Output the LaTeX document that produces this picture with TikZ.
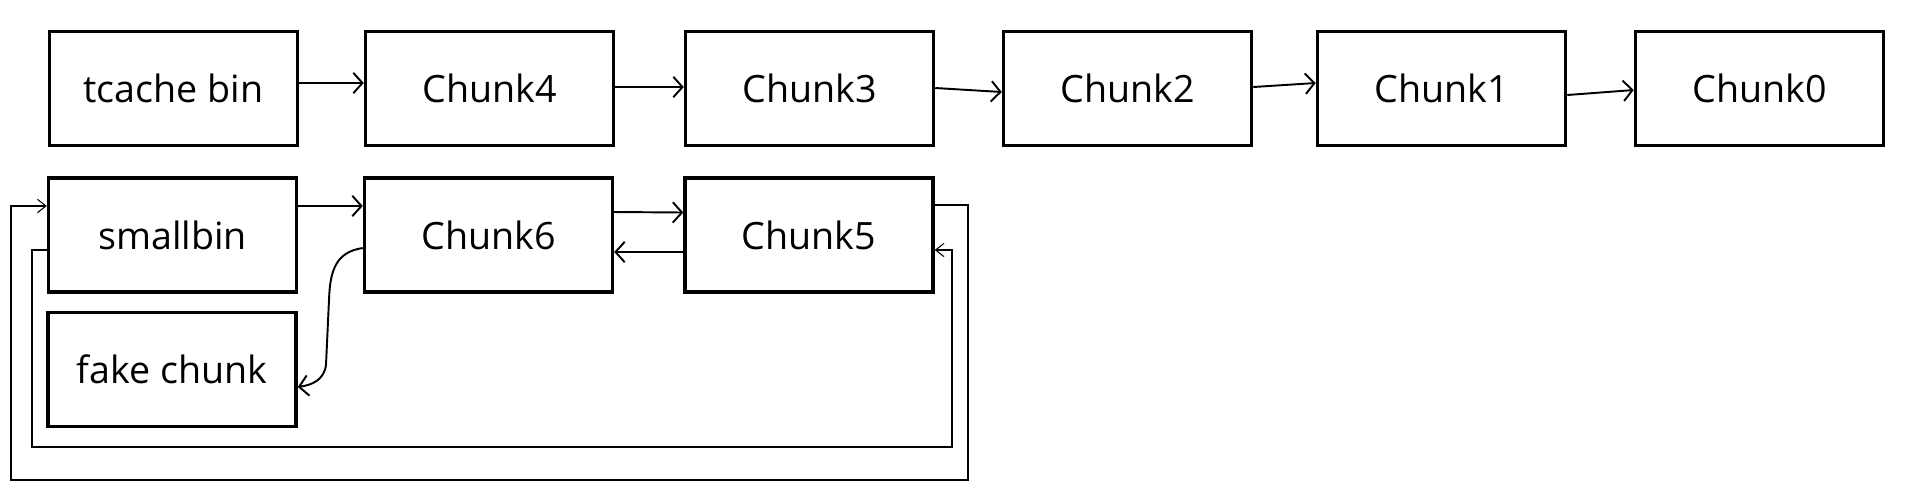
\documentclass[tikz,border=0pt]{standalone}
\usepackage{fontspec}
\setmainfont{Open Sans}
\usetikzlibrary{arrows.meta}

\tikzset{
    chunkbox/.style={draw, line width=0.95pt, minimum width=2.48cm, minimum height=1.14cm,
        inner sep=0pt, font=\fontsize{10.7}{13}\selectfont},
    ptr/.style={line width=0.55pt, -{Straight Barb[length=2.6pt,width=5.8pt]}},
    ringptr/.style={line width=0.3pt, -{Straight Barb[length=2.4pt,width=3.8pt]}}
}

\begin{document}
\begin{tikzpicture}[x=0.01cm, y=-0.01cm]
    \useasboundingbox (0,0) rectangle (1905,499);

    % tcache list
    \foreach \nm/\x/\txt in {tc/173.5/tcache bin, c4/489.5/Chunk4, c3/809.5/Chunk3,
                             c2/1127.5/Chunk2, c1/1441.5/Chunk1, c0/1759.5/Chunk0} {
        \node[chunkbox] (\nm) at (\x,88.5) {\txt};
    }
    \foreach \a/\b/\ya/\yb in {tc/c4/83/83, c4/c3/87/87, c3/c2/88/92, c2/c1/87/83, c1/c0/95/90} {
        \draw[ptr] (\a.east |- 0,\ya) -- (\b.west |- 0,\yb);
    }

    % smallbin list
    \node[chunkbox] (sb) at (172.5,235) {smallbin};
    \node[chunkbox] (c6) at (488.5,235) {Chunk6};
    \node[chunkbox] (c5) at (809,235) {Chunk5};
    \node[chunkbox] (fk) at (172,369.5) {fake chunk};

    \draw[ptr] (sb.east |- 0,206) -- (c6.west |- 0,206);
    \draw[ptr] (c6.east |- 0,212) -- (c5.west |- 0,212.5);
    \draw[ptr] (c5.west |- 0,252) -- (c6.east |- 0,252);
    \draw[ptr] (c6.west |- 0,248) .. controls (336,252) and (330,270) .. (329,300)
        -- (326,365) .. controls (324,380) and (312,385) .. (fk.east |- 0,387);

    % wrap-around links
    \draw[ringptr] (sb.west |- 0,250) -| (32,447) -| (952,250) -- (c5.east |- 0,250);
    \draw[ringptr] (c5.east |- 0,205) -| (968,480) -| (11,206) -- (sb.west |- 0,206);
\end{tikzpicture}
\end{document}
